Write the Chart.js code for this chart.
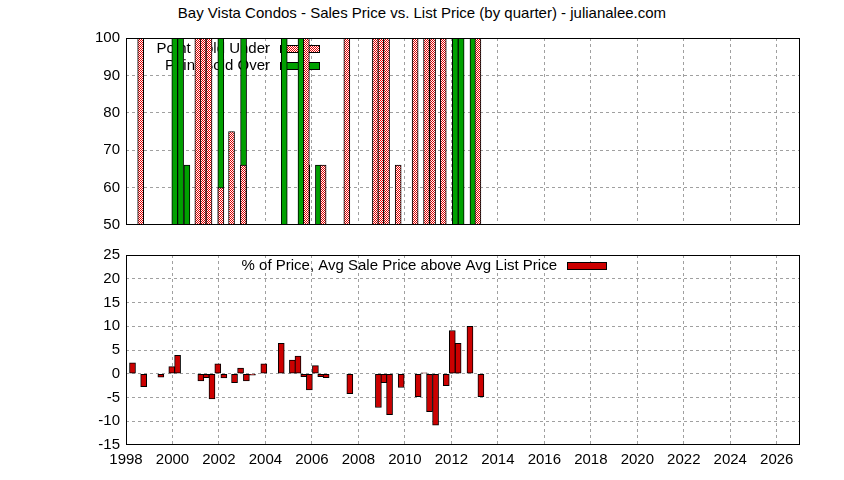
<!DOCTYPE html>
<html>
<head>
<meta charset="utf-8">
<script src="https://cdn.jsdelivr.net/npm/chart.js@4"></script>
<style>
  body { margin: 0; background: #fff; }
  #wrap { position: relative; width: 844px; height: 480px; font-family: "Liberation Sans", Arial, sans-serif; }
  #title { position: absolute; top: 4px; left: 0; width: 844px; text-align: center; font-size: 15px; }
  .box { position: absolute; left: 0; width: 844px; height: 240px; }
</style>
</head>
<body>
<div id="wrap">
  <div id="title">Bay Vista Condos - Sales Price vs. List Price (by quarter) - julianalee.com</div>
  <div class="box" style="top:0"><canvas id="topChart"></canvas></div>
  <div class="box" style="top:240px"><canvas id="bottomChart"></canvas></div>
</div>
<script>
// quarter positions (decimal year) and values
const underX = [1998.76, 2001.22, 2001.45, 2001.70, 2002.21, 2002.67, 2003.18, 2005.89, 2006.61,
                2007.63, 2008.86, 2009.10, 2009.34, 2009.84, 2010.57, 2011.06, 2011.32, 2011.78, 2013.27];
const underY = [100, 100, 100, 100, 60, 75, 66, 100, 66,
                100, 100, 100, 100, 66, 100, 100, 100, 100, 100];
const overX = [1999.97, 2000.22, 2000.49, 2001.95, 2002.93, 2004.68, 2005.40, 2005.65, 2006.15,
               2010.83, 2012.04, 2012.29, 2012.80];
const overY = [100, 100, 66, 100, 100, 100, 100, 66, 66,
               100, 100, 100, 100];
const pctX = [1998.28, 1998.76, 1999.50, 1999.97, 2000.22, 2000.49, 2000.74, 2000.98, 2001.22, 2001.45,
              2001.70, 2001.95, 2002.21, 2002.67, 2002.93, 2003.18, 2003.44, 2003.93, 2004.17, 2004.68,
              2005.16, 2005.40, 2005.65, 2005.89, 2006.15, 2006.38, 2006.61, 2007.63, 2008.86, 2009.10,
              2009.34, 2009.84, 2010.57, 2010.83, 2011.06, 2011.32, 2011.78, 2012.04, 2012.29, 2012.80, 2013.27];
const pctY = [2.3, -2.7, -0.7, 1.5, 3.9, 0, 0, 0, -1.5, -0.8,
              -5.3, 2.1, -0.9, -1.9, 1.2, -1.5, -0.3, 2.1, 0, 6.4,
              2.9, 3.7, -0.6, -3.4, 1.7, -0.6, -0.8, -4.2, -7.1, -1.9,
              -8.6, -2.9, -4.8, 0.2, -8.0, -10.8, -2.5, 9.1, 6.4, 10.0, -4.8];
const yearTicks = [1998, 2000, 2002, 2004, 2006, 2008, 2010, 2012, 2014, 2016, 2018, 2020, 2022, 2024, 2026];
const FONT = { family: '"Liberation Sans", Arial, sans-serif', size: 15 };

function checker() {
    const c = document.createElement('canvas');
    c.width = 2; c.height = 2;
    const g = c.getContext('2d');
    g.fillStyle = '#ffffff'; g.fillRect(0, 0, 2, 2);
    g.fillStyle = '#e00000'; g.fillRect(0, 0, 1, 1); g.fillRect(1, 1, 1, 1);
    return g.createPattern(c, 'repeat');
}
const redPattern = checker();

const pts = (xs, ys) => xs.map((x, i) => ({ x: x, y: ys[i] }));

const frame = {
    id: 'frame',
    afterDraw(chart) {
        const { ctx, chartArea: a } = chart;
        ctx.save();
        ctx.strokeStyle = '#000'; ctx.lineWidth = 1;
        ctx.strokeRect(a.left + 0.5, a.top + 0.5, a.width - 1, a.height - 1);
        ctx.restore();
    }
};

// legend text is drawn before the bars so bars sit on top, like the original
function legendPlugin(entries) {
    return {
        id: 'legendText',
        beforeDatasetsDraw(chart) {
            const ctx = chart.ctx;
            ctx.save();
            ctx.font = '15px "Liberation Sans", Arial, sans-serif';
            ctx.textAlign = 'right'; ctx.textBaseline = 'middle';
            entries.forEach(e => {
                ctx.fillStyle = '#000';
                ctx.fillText(e.text, e.tx, e.y);
                ctx.fillStyle = e.fill;
                ctx.fillRect(e.sx, e.y - 4, e.sw, 8);
                ctx.strokeStyle = '#000'; ctx.lineWidth = 1;
                ctx.strokeRect(e.sx + 0.5, e.y - 3.5, e.sw - 1, 7);
            });
            ctx.restore();
        }
    };
}

function xScale(showLabels) {
    return {
        type: 'linear', min: 1998, max: 2027, offset: false,
        afterBuildTicks: s => { s.ticks = yearTicks.map(v => ({ value: v })); },
        afterFit: s => { s.height = showLabels ? 35 : 0; },
        ticks: { display: showLabels, color: '#000', font: FONT, padding: 6, maxRotation: 0, autoSkip: false,
                 callback: v => String(v) },
        grid: {
            color: ctx => (ctx.tick && (ctx.tick.value === 1998)) ? 'rgba(0,0,0,0)' : '#a0a0a0',
            drawTicks: false, lineWidth: 1, offset: false
        },
        border: { display: false, dash: [3, 3] }
    };
}
function yScale(min, max, step) {
    return {
        min: min, max: max,
        afterFit: s => { s.width = 126; },
        ticks: { stepSize: step, color: '#000', font: FONT, padding: 6 },
        grid: {
            color: ctx => (ctx.tick && (ctx.tick.value === min || ctx.tick.value === max)) ? 'rgba(0,0,0,0)' : '#a0a0a0',
            drawTicks: false
        },
        border: { display: false, dash: [3, 3] }
    };
}
const baseOpts = {
    responsive: true, maintainAspectRatio: false, animation: false,
    plugins: { legend: { display: false }, tooltip: { enabled: false } }
};

new Chart(document.getElementById('topChart'), {
    type: 'bar',
    data: {
        datasets: [
            { label: 'Point Sold Under', data: pts(underX, underY), backgroundColor: redPattern,
              borderColor: '#000', borderWidth: 1, borderSkipped: false, barThickness: 6 },
            { label: 'Point Sold Over', data: pts(overX, overY), backgroundColor: '#00a000',
              borderColor: '#000', borderWidth: 1, borderSkipped: false, barThickness: 6 }
        ]
    },
    options: Object.assign({}, baseOpts, {
        layout: { padding: { top: 38, right: 44, bottom: 6, left: 0 } },
        scales: { x: xScale(false), y: yScale(50, 100, 10) }
    }),
    plugins: [frame, legendPlugin([
        { text: 'Point Sold Under', tx: 270, y: 49, sx: 280, sw: 40, fill: redPattern },
        { text: 'Point Sold Over', tx: 270, y: 66, sx: 280, sw: 40, fill: '#00a000' }
    ])]
});

new Chart(document.getElementById('bottomChart'), {
    type: 'bar',
    data: {
        datasets: [
            { label: '% of Price, Avg Sale Price above Avg List Price', data: pts(pctX, pctY),
              backgroundColor: '#cc0000', borderColor: '#000', borderWidth: 1, borderSkipped: false, barThickness: 6 }
        ]
    },
    options: Object.assign({}, baseOpts, {
        layout: { padding: { top: 10, right: 44, bottom: 0, left: 0 } },
        scales: { x: xScale(true), y: yScale(-15, 25, 5) }
    }),
    plugins: [frame, legendPlugin([
        { text: '% of Price, Avg Sale Price above Avg List Price', tx: 557, y: 26, sx: 567, sw: 40, fill: '#cc0000' }
    ])]
});
</script>
</body>
</html>
